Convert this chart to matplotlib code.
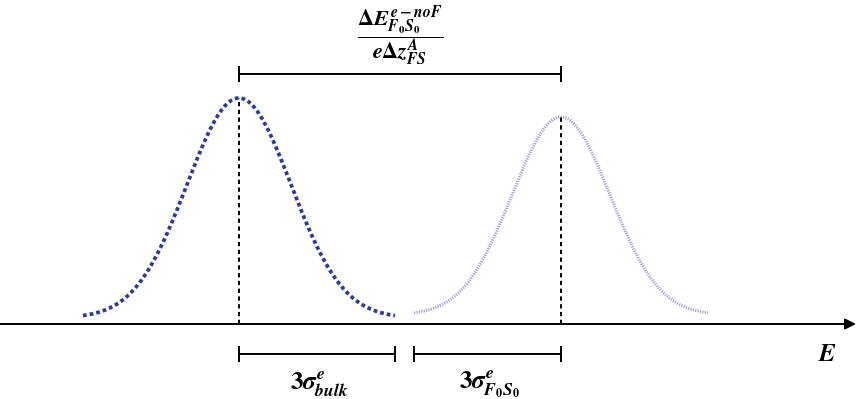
import numpy as np
import matplotlib
matplotlib.use("Agg")
import matplotlib.pyplot as plt

# bold italic serif for all math text
plt.rcParams["mathtext.fontset"] = "custom"
plt.rcParams["mathtext.it"] = "STIXGeneral:italic:bold"
plt.rcParams["mathtext.rm"] = "STIXGeneral:bold"
plt.rcParams["mathtext.bf"] = "STIXGeneral:bold"

# -----------------------------
# Peak parameters (energy axis, arbitrary units)
# -----------------------------
peak_names = ["bulk", "F0S0"]
peak_centers = [2.39, 5.61]
peak_sigmas = [0.52, 0.49]
peak_amplitudes = [2.20, 1.98]
peak_offsets = [0.06, 0.09]
peak_colors = ["#2f3a9c", "#a3a3dd"]

bracket_level_top = 2.50
bracket_level_bottom = -0.30

label_top = r"$\dfrac{\mathit{\Delta} E^{e-noF}_{F_0S_0}}{e\mathit{\Delta} z^{A}_{FS}}$"
label_sigma = [r"$3\sigma^{e}_{bulk}$", r"$3\sigma^{e}_{F_0S_0}$"]


def gauss(x, mu, sig, amp, off):
    return off + amp * np.exp(-0.5 * ((x - mu) / sig) ** 2)


def bracket(ax, x0, x1, y, cap=0.07, lw=1.4):
    ax.plot([x0, x1], [y, y], color="black", lw=lw, solid_capstyle="butt")
    for xx in (x0, x1):
        ax.plot([xx, xx], [y - cap, y + cap], color="black", lw=lw)


fig = plt.figure(figsize=(8.58, 3.99), dpi=100)
ax = fig.add_axes([0, 0, 1, 1])
ax.set_xlim(0, 8.58)
ax.set_ylim(-0.75, 3.24)
ax.axis("off")

# energy axis with arrow
ax.annotate("", xy=(8.56, 0), xytext=(0, 0),
            arrowprops=dict(arrowstyle="-|>", color="black", lw=1.4,
                            mutation_scale=16, shrinkA=0, shrinkB=0))
ax.text(8.28, bracket_level_bottom, r"$E$", fontsize=18, ha="center", va="center")

# the two gaussians, cut at +-3 sigma
styles = [dict(lw=2.7, ls=(0, (1, 0.8)), dash_capstyle="butt"),
          dict(lw=2.2, ls=(0, (0.4, 0.4)), dash_capstyle="butt")]
for mu, sig, amp, off, col, st in zip(peak_centers, peak_sigmas, peak_amplitudes,
                                      peak_offsets, peak_colors, styles):
    x = np.linspace(mu - 3 * sig, mu + 3 * sig, 400)
    ax.plot(x, gauss(x, mu, sig, amp, off), color=col, **st)
    # dashed line from the axis up to the maximum
    ax.plot([mu, mu], [0, off + amp], color="black", lw=1.4, ls=(0, (2.2, 1.8)))

# separation between the peaks
bracket(ax, peak_centers[0], peak_centers[1], bracket_level_top)
ax.text((peak_centers[0] + peak_centers[1]) / 2, 2.88, label_top,
        fontsize=16, ha="center", va="center")

# 3 sigma widths below the axis
spans = [(peak_centers[0], peak_centers[0] + 3 * peak_sigmas[0]),
         (peak_centers[1] - 3 * peak_sigmas[1], peak_centers[1])]
for (x0, x1), lab in zip(spans, label_sigma):
    bracket(ax, x0, x1, bracket_level_bottom)
    ax.text((x0 + x1) / 2 + 0.02, -0.6, lab, fontsize=18, ha="center", va="center")

fig.savefig("out.png", dpi=100)
